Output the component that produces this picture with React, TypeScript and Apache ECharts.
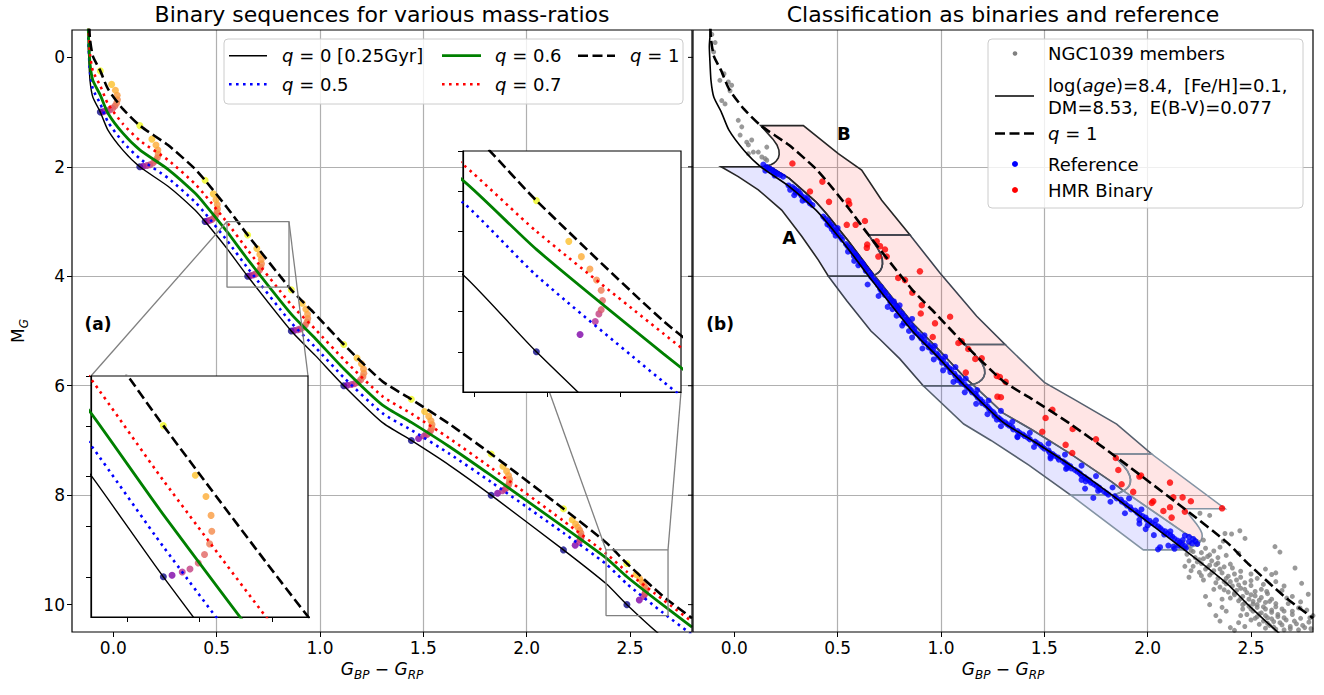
import React, { useEffect, useRef } from 'react';
import * as echarts from 'echarts';

const FONT = 'DejaVu Sans';

// ---------- sequences [G_BP - G_RP, M_G] ----------
const Q0_LINE = [[-0.112,-0.6],[-0.121,-0.2],[-0.119,0.0],[-0.113,0.42],[-0.099,0.73],[-0.063,1.0],[-0.026,1.33],[0.047,1.7],[0.128,2.0],[0.266,2.36],[0.395,2.79],[0.444,3.0],[0.551,3.5],[0.65,4.0],[0.861,5.0],[0.978,5.45],[1.115,6.0],[1.301,6.67],[1.442,7.0],[1.625,7.45],[1.828,8.0],[2.178,9.0],[2.385,9.62],[2.485,10.0],[2.66,10.6],[2.8,11.0]];
const Q05_LINE = [[-0.112,-0.75],[-0.121,-0.35],[-0.119,-0.15],[-0.113,0.27],[-0.099,0.58],[-0.063,0.85],[-0.026,1.18],[0.047,1.55],[0.128,1.85],[0.266,2.21],[0.395,2.64],[0.444,2.85],[0.551,3.35],[0.65,3.85],[0.861,4.85],[0.978,5.3],[1.115,5.85],[1.301,6.5],[1.442,6.81],[1.625,7.24],[1.828,7.76],[2.178,8.69],[2.385,9.26],[2.485,9.62],[2.66,10.15],[2.8,10.55]];
const Q06_LINE = [[-0.112,-0.91],[-0.121,-0.51],[-0.119,-0.31],[-0.113,0.11],[-0.099,0.42],[-0.063,0.69],[-0.026,1.02],[0.047,1.39],[0.128,1.69],[0.266,2.05],[0.395,2.48],[0.444,2.69],[0.551,3.19],[0.65,3.69],[0.861,4.69],[0.978,5.14],[1.115,5.69],[1.301,6.35],[1.442,6.67],[1.625,7.11],[1.828,7.64],[2.178,8.58],[2.385,9.15],[2.485,9.49],[2.66,10.01],[2.8,10.41]];
const Q07_LINE = [[-0.112,-1.08],[-0.121,-0.68],[-0.119,-0.48],[-0.113,-0.06],[-0.099,0.25],[-0.063,0.52],[-0.026,0.85],[0.047,1.22],[0.128,1.52],[0.266,1.88],[0.395,2.31],[0.444,2.52],[0.551,3.02],[0.65,3.52],[0.861,4.52],[0.978,4.97],[1.115,5.52],[1.301,6.19],[1.442,6.51],[1.625,6.96],[1.828,7.5],[2.178,8.47],[2.385,9.07],[2.485,9.4],[2.66,9.91],[2.8,10.31]];
const Q1_LINE = [[-0.112,-1.353],[-0.121,-0.953],[-0.119,-0.753],[-0.113,-0.333],[-0.099,-0.023],[-0.063,0.247],[-0.026,0.577],[0.047,0.947],[0.128,1.247],[0.266,1.607],[0.395,2.037],[0.444,2.247],[0.551,2.747],[0.65,3.247],[0.861,4.247],[0.978,4.697],[1.115,5.247],[1.301,5.917],[1.442,6.247],[1.625,6.697],[1.828,7.247],[2.178,8.247],[2.385,8.867],[2.485,9.247],[2.66,9.847],[2.8,10.247]];

// ---------- mass-ratio arcs (q = 0 ... 1) ----------
const ARC_BASE_X = [-0.063, 0.128, 0.444, 0.65, 0.861, 1.115, 1.442, 1.828, 2.178, 2.485];
const ARC_BASE_M = [1, 2, 3, 4, 5, 6, 7, 8, 9, 10];
const ARC_BULGE = [0.083, 0.089, 0.06, 0.067, 0.08, 0.097, 0.1, 0.089, 0.086, 0.091];
const ARC_KIND = ['b', 'b', 'b', 'b', 'b', 'b', 'm', 'm', 'f', 'f'];
const ARC_U_BRIGHT = [0, 0.18, 0.39, 0.55, 0.72, 0.85, 0.955, 1.0, 0.985, 0.88, 0.66, 0];
const ARC_DM_BRIGHT = [0, -0.008, -0.024, -0.039, -0.069, -0.111, -0.164, -0.227, -0.306, -0.4, -0.506, -0.753];
const ARC_U_MID = [0, 0.35, 0.62, 0.76, 0.86, 0.94, 0.99, 1.0, 0.95, 0.84, 0.64, 0];
const ARC_DM_MID = [0, -0.035, -0.08, -0.11, -0.14, -0.18, -0.23, -0.29, -0.36, -0.44, -0.53, -0.753];
const ARC_U_FAINT = [0, 0.66, 0.89, 0.945, 0.98, 1.0, 0.98, 0.91, 0.81, 0.68, 0.49, 0];
const ARC_DM_FAINT = [0, -0.086, -0.151, -0.189, -0.21, -0.255, -0.307, -0.358, -0.412, -0.474, -0.55, -0.753];
const ARC_COLORS = ['#0d0887', '#7e03a8', '#b12a90', '#c33d80', '#d8576b', '#e16462', '#ed7953', '#f48849', '#fa9b3e', '#fdab33', '#fdc02a', '#f0f921'];

// ---------- classification regions ----------
const A_LEFT = [[-0.064,2.0],[0.019,2.18],[0.116,2.42],[0.229,2.79],[0.326,3.27],[0.406,3.7],[0.455,4.0],[0.545,4.45],[0.661,5.0],[0.704,5.15],[0.801,5.51],[0.914,6.0],[1.11,6.7],[1.242,7.0],[1.425,7.45],[1.628,8.0],[1.979,9.0]];
const B_RIGHT = [[0.334,1.247],[0.503,1.76],[0.616,2.06],[0.713,2.61],[0.85,3.247],[0.995,3.94],[1.173,4.73],[1.31,5.247],[1.5,5.94],[1.64,6.24],[1.85,6.7],[2.019,7.247],[2.374,8.247]];
const BIN_ARCS = [1, 3, 5, 7, 8];
const BIN_STROKES = ['#262626', '#3d4350', '#56606e', '#8494a4'];

// ---------- NGC1039 stars ----------
const MEMBERS = [[-0.109,-0.42],[-0.093,-0.27],[-0.1,-0.1],[-0.05,0.3],[-0.07,0.42],[-0.029,0.45],[-0.013,0.51],[-0.021,0.61],[-0.061,0.79],[-0.045,0.85],[0.019,1.15],[0.036,1.27],[0.028,1.42],[0.06,1.55],[0.068,1.6],[0.084,1.51],[0.116,1.73],[0.092,1.73],[0.157,1.64],[0.133,1.82],[0.157,1.88],[0.068,1.76],[0.149,1.85],
[2.253,8.33],[2.3,8.37],[2.374,8.7],[2.406,8.71],[2.446,8.65],[2.366,8.84],[2.471,8.79],[2.616,8.94],[2.64,9.04],[2.713,9.33],[2.745,9.61],[2.777,9.81],[2.6,9.45],[2.576,9.76],[2.673,9.88],[2.737,10.06],[2.785,10.24],
[2.17,8.86],[2.2,8.92],[2.24,8.9],[2.28,8.97],[2.21,9.01],[2.26,9.05],[2.19,9.08],[2.32,9.02],[2.35,8.95],[2.23,9.14],[2.29,9.12],[2.25,9.18],[2.38,9.1],[2.2,9.2],[2.31,9.2],[2.44,9.06],[2.16,8.95],[2.27,8.82],
[2.26,9.25],[2.3,9.28],[2.34,9.24],[2.22,9.3],[2.37,9.31],[2.28,9.35],[2.41,9.33],[2.32,9.38],[2.25,9.41],[2.36,9.42],[2.45,9.39],[2.3,9.46],[2.39,9.48],[2.5,9.44],[2.34,9.52],[2.27,9.55],[2.43,9.55],[2.37,9.58],[2.53,9.52],[2.47,9.6],[2.2,9.5],[2.57,9.35],[2.62,9.42],
[2.38,9.62],[2.41,9.66],[2.35,9.68],[2.45,9.7],[2.5,9.65],[2.43,9.74],[2.39,9.77],[2.48,9.78],[2.55,9.72],[2.42,9.82],[2.46,9.85],[2.52,9.84],[2.58,9.8],[2.4,9.88],[2.49,9.9],[2.44,9.93],[2.54,9.92],[2.6,9.9],[2.47,9.97],[2.51,9.99],[2.36,9.9],[2.65,9.74],[2.32,9.72],[2.57,9.96],
[2.49,10.03],[2.53,10.05],[2.46,10.08],[2.57,10.08],[2.62,10.04],[2.51,10.12],[2.55,10.15],[2.6,10.14],[2.48,10.18],[2.66,10.12],[2.53,10.22],[2.58,10.24],[2.63,10.22],[2.7,10.18],[2.5,10.28],[2.56,10.3],[2.61,10.31],[2.67,10.28],[2.74,10.25],[2.54,10.36],[2.59,10.38],[2.65,10.37],[2.72,10.35],[2.78,10.32],[2.57,10.43],[2.62,10.45],[2.69,10.44],[2.76,10.42],[2.45,10.2],[2.44,10.33],[2.8,10.2],[2.73,10.06],[2.68,9.98],
[2.14,8.9],[2.18,8.98],[2.22,9.03],[2.3,9.09],[2.27,9.16],[2.34,9.14],[2.24,9.22],[2.33,9.27],[2.29,9.32],[2.4,9.26],[2.35,9.35],[2.31,9.42],[2.42,9.44],[2.38,9.52],[2.45,9.5],[2.33,9.6],[2.4,9.58],[2.5,9.56],[2.44,9.64],[2.37,9.73],[2.47,9.72],[2.52,9.76],[2.42,9.79],[2.5,9.82],[2.45,9.89],[2.55,9.87],[2.51,9.94],[2.59,9.94],[2.46,10.0],[2.53,10.0],[2.62,9.98],[2.56,10.04],[2.5,10.08],[2.6,10.1],[2.65,10.08],[2.54,10.17],[2.63,10.18],[2.57,10.2],[2.7,10.12],[2.6,10.26],[2.66,10.24],[2.52,10.25],[2.71,10.3],[2.64,10.33],[2.58,10.34],[2.69,10.4],[2.75,10.38],[2.61,10.41],[2.66,10.46],[2.73,10.46],[2.79,10.44],[2.77,10.1],[2.74,9.95],[2.7,9.85],[2.66,9.66],[2.62,9.58],[2.56,9.63],[2.21,9.38],[2.26,9.47],[2.18,9.3],
[2.35,10.3],[2.4,10.42],[2.38,10.12],[2.42,10.47],[2.3,10.0],[2.33,10.2],[2.28,9.85],[2.36,10.05],[2.47,10.4]];

const REFERENCE = [[0.14,1.96],[0.155,2.0],[0.17,2.03],[0.185,2.06],[0.178,2.08],[0.2,2.1],[0.21,2.13],[0.222,2.15],[0.236,2.18],[0.19,2.11],[0.16,2.04],[0.15,2.07],[0.195,2.16],
[0.262,2.34],[0.28,2.37],[0.29,2.4],[0.3,2.43],[0.296,2.47],[0.318,2.49],[0.325,2.53],[0.34,2.56],[0.345,2.6],[0.36,2.63],[0.366,2.67],[0.378,2.7],[0.31,2.45],[0.352,2.58],[0.27,2.42],[0.33,2.62],[0.29,2.52],
[0.43,2.91],[0.44,2.95],[0.452,2.98],[0.458,3.02],[0.468,3.06],[0.476,3.1],[0.472,3.14],[0.49,3.17],[0.496,3.21],[0.505,3.25],[0.515,3.29],[0.522,3.33],[0.482,3.19],[0.462,3.08],[0.45,3.05],[0.49,3.26],[0.5,3.12],
[0.54,3.41],[0.548,3.45],[0.56,3.48],[0.566,3.52],[0.572,3.56],[0.584,3.59],[0.578,3.63],[0.598,3.66],[0.6,3.7],[0.612,3.73],[0.61,3.77],[0.625,3.8],[0.63,3.84],[0.64,3.87],[0.636,3.9],[0.652,3.93],[0.66,3.97],[0.59,3.62],[0.62,3.76],[0.55,3.55],[0.6,3.8],[0.58,3.72],
[0.662,4.01],[0.672,4.05],[0.68,4.08],[0.69,4.12],[0.695,4.16],[0.708,4.19],[0.705,4.23],[0.72,4.26],[0.73,4.3],[0.728,4.34],[0.745,4.37],[0.75,4.41],[0.758,4.44],[0.755,4.48],[0.772,4.51],[0.78,4.55],[0.788,4.58],[0.79,4.62],[0.8,4.65],[0.812,4.68],[0.81,4.72],[0.825,4.75],[0.832,4.79],[0.84,4.82],[0.838,4.86],[0.855,4.89],[0.86,4.93],[0.87,4.96],[0.712,4.28],[0.765,4.6],[0.82,4.85],
[0.645,4.15],[0.698,4.36],[0.772,4.46],[0.742,4.56],[0.8,4.53],[0.785,4.72],[0.86,4.78],[0.812,4.9],[0.845,5.0],
[0.872,5.01],[0.88,5.04],[0.893,5.07],[0.9,5.11],[0.905,5.14],[0.92,5.17],[0.918,5.21],[0.935,5.24],[0.945,5.27],[0.95,5.31],[0.962,5.34],[0.958,5.38],[0.978,5.41],[0.985,5.44],[0.99,5.48],[1.0,5.51],[1.01,5.54],[1.005,5.58],[1.025,5.61],[1.03,5.65],[1.04,5.68],[1.05,5.71],[1.045,5.75],[1.065,5.78],[1.07,5.82],[1.085,5.85],[1.09,5.88],[1.1,5.92],[1.098,5.95],[1.115,5.98],[0.94,5.3],[1.08,5.9],
[0.86,5.12],[0.92,5.08],[0.91,5.32],[0.97,5.27],[0.965,5.52],[1.02,5.47],[1.01,5.72],[1.07,5.66],[1.06,5.93],[1.12,5.87],
[1.125,6.02],[1.135,6.05],[1.145,6.08],[1.15,6.12],[1.165,6.15],[1.172,6.18],[1.178,6.22],[1.19,6.25],[1.2,6.29],[1.198,6.32],[1.215,6.35],[1.225,6.38],[1.232,6.42],[1.24,6.45],[1.252,6.48],[1.26,6.52],[1.258,6.55],[1.275,6.58],[1.285,6.61],[1.295,6.64],[1.31,6.67],[1.32,6.7],[1.33,6.73],[1.345,6.76],[1.35,6.8],[1.37,6.83],[1.38,6.86],[1.395,6.89],[1.405,6.92],[1.42,6.95],[1.43,6.98],[1.27,6.62],[1.37,6.94],
[1.115,6.12],[1.175,6.08],[1.17,6.33],[1.23,6.27],[1.225,6.52],[1.29,6.46],[1.29,6.74],[1.345,6.66],[1.37,6.93],[1.43,6.86],
[1.455,7.02],[1.465,7.05],[1.48,7.08],[1.49,7.12],[1.5,7.15],[1.52,7.18],[1.525,7.22],[1.54,7.25],[1.55,7.28],[1.565,7.31],[1.57,7.35],[1.59,7.38],[1.6,7.41],[1.612,7.44],[1.625,7.47],[1.63,7.51],[1.648,7.54],[1.66,7.57],[1.672,7.6],[1.68,7.64],[1.695,7.67],[1.705,7.7],[1.718,7.73],[1.725,7.77],[1.74,7.8],[1.752,7.83],[1.765,7.86],[1.77,7.9],[1.788,7.93],[1.8,7.96],[1.81,7.99],[1.53,7.3],[1.61,7.5],[1.7,7.75],[1.697,7.88],
[1.45,7.12],[1.52,7.06],[1.53,7.33],[1.6,7.26],[1.605,7.52],[1.68,7.46],[1.68,7.72],[1.75,7.65],[1.76,7.92],[1.83,7.86],
[1.84,8.02],[1.85,8.06],[1.87,8.08],[1.875,8.12],[1.89,8.15],[1.9,8.19],[1.915,8.22],[1.92,8.26],[1.94,8.28],[1.95,8.32],[1.96,8.35],[1.975,8.38],[1.99,8.41],[1.995,8.45],[2.01,8.47],[2.02,8.51],[2.035,8.54],[2.05,8.57],[2.06,8.6],[2.07,8.64],[2.085,8.66],[2.095,8.7],[2.11,8.73],[2.12,8.76],[2.13,8.8],[2.145,8.83],[2.155,8.86],[2.165,8.9],[2.18,8.93],[2.185,8.97],[1.96,8.45],[2.0,8.55],[2.08,8.72],[2.15,8.92],[2.2,8.85],[2.215,8.88],[2.23,8.84],[2.24,8.89],[2.22,8.8],[2.2,8.76],[2.18,8.74],[1.737,8.05],[2.05,8.99],[2.124,8.94],
[1.82,8.12],[1.91,8.06],[1.89,8.33],[1.97,8.26],[1.96,8.52],[2.04,8.46],[2.03,8.73],[2.11,8.66],[2.1,8.92],[2.17,8.82],[2.06,8.95],[1.99,8.62],[2.13,8.98]];

const HMR = [[0.281,1.94],[0.426,2.27],[0.366,2.45],[0.458,2.64],[0.552,2.62],[0.556,2.68],[0.544,3.06],[0.587,3.06],[0.632,2.99],[0.641,3.48],[0.643,3.42],[0.689,3.36],[0.729,3.51],[0.737,3.64],[0.697,3.64],[0.705,3.45],[0.793,4.03],[0.826,4.07],[0.861,4.3],[0.898,3.91],[0.907,4.53],[0.902,4.68],[0.971,4.86],[1.044,4.74],[0.96,5.11],[1.084,5.22],[1.1,5.19],[1.132,5.33],[1.197,5.5],[1.166,5.51],[1.12,5.76],[1.27,5.82],[1.285,5.84],[1.313,5.93],[1.273,6.2],[1.29,6.21],[1.539,6.44],[1.506,6.59],[1.637,6.79],[1.75,6.98],[1.603,7.08],[1.49,6.84],[1.635,7.23],[1.846,7.32],[1.858,7.54],[1.968,7.64],[1.96,7.66],[1.874,7.8],[1.93,7.94],[2.108,7.77],[2.027,8.11],[2.02,8.14],[2.124,8.04],[2.169,8.04],[2.209,8.11],[2.108,8.22],[2.076,8.29],[2.116,8.41],[2.18,8.3],[2.36,8.24]];

// ---------- axes ----------
const X_TICKS = [0, 0.5, 1, 1.5, 2, 2.5];
const Y_TICKS = [0, 2, 4, 6, 8, 10];
const INSET1_X = [0.55, 0.85];
const INSET1_Y = [3.0, 4.2];
const INSET1_X_TICKS = [0.6, 0.7, 0.8];
const INSET1_Y_TICKS = [3.0, 3.25, 3.5, 3.75, 4.0];
const INSET2_X = [2.384, 2.684];
const INSET2_Y = [9.0, 10.2];
const INSET2_X_TICKS = [2.4, 2.5, 2.6];
const INSET2_Y_TICKS = [9.0, 9.2, 9.4, 9.6, 9.8, 10.0];

// ---------- derived tables ----------
function arcPoints(i: number) {
  const k = ARC_KIND[i];
  const U = k === 'b' ? ARC_U_BRIGHT : k === 'm' ? ARC_U_MID : ARC_U_FAINT;
  const DM = k === 'b' ? ARC_DM_BRIGHT : k === 'm' ? ARC_DM_MID : ARC_DM_FAINT;
  return U.map((u, j) => [ARC_BASE_X[i] + u * ARC_BULGE[i], ARC_BASE_M[i] + DM[j]]);
}
const ARCS = ARC_BASE_X.map((_, i) => arcPoints(i));
const ARC_DOTS: any[] = [];
ARCS.forEach((arc) => arc.forEach((p, j) => ARC_DOTS.push({ value: p, itemStyle: { color: ARC_COLORS[j] } })));

function q05Between(mA: number, mB: number) {
  return Q05_LINE.filter((p) => p[1] > mA + 1e-6 && p[1] < mB - 1e-6);
}
const POLYS: any[] = [];
for (let b = 0; b < BIN_ARCS.length - 1; b++) {
  const a1 = ARCS[BIN_ARCS[b]];
  const a2 = ARCS[BIN_ARCS[b + 1]];
  const m1 = ARC_BASE_M[BIN_ARCS[b]];
  const m2 = ARC_BASE_M[BIN_ARCS[b + 1]];
  const mid = q05Between(a1[2][1], a2[2][1]).slice().reverse();
  const left = A_LEFT.filter((p) => p[1] >= m1 - 1e-6 && p[1] <= m2 + 1e-6);
  POLYS.push({
    pts: [...left, a2[0], a2[1], a2[2], ...mid, a1[2], a1[1], a1[0]],
    fill: 'rgba(0,0,255,0.1)', stroke: BIN_STROKES[b],
  });
  const right = B_RIGHT.filter((p) => p[1] >= m1 - 0.754 && p[1] <= m2 - 0.752);
  POLYS.push({
    pts: [...a1.slice(2), ...right, ...a2.slice(2).reverse(), ...mid],
    fill: 'rgba(255,0,0,0.1)', stroke: BIN_STROKES[b],
  });
}

const lineS = (data: number[][], gi: number, color: string, width: number, type: any, z: number) => ({
  type: 'line', xAxisIndex: gi, yAxisIndex: gi, data, symbol: 'none', showSymbol: false, smooth: 0.2,
  lineStyle: { color, width, type }, z, silent: true, clip: true,
});
const DOT = [2.6, 4.4];
const DASH = [10, 4.5];

function sequences(gi: number, z: number) {
  return [
    { type: 'scatter', xAxisIndex: gi, yAxisIndex: gi, data: ARC_DOTS, symbolSize: 7, z, silent: true, clip: true },
    lineS(Q0_LINE, gi, '#000', 1.4, 'solid', z + 1),
    lineS(Q05_LINE, gi, '#0000ff', 2.6, DOT, z + 1),
    lineS(Q06_LINE, gi, '#008000', 2.8, 'solid', z + 1),
    lineS(Q07_LINE, gi, '#ff0000', 2.6, DOT, z + 1),
    lineS(Q1_LINE, gi, '#000', 2.6, DASH, z + 1),
  ];
}

const mainX = (gi: number) => ({
  gridIndex: gi, type: 'value', min: -0.2, max: 2.8, splitNumber: 6, position: 'bottom',
  axisLine: { show: false, onZero: false },
  axisTick: { show: true, length: 5, customValues: X_TICKS, lineStyle: { color: '#000', width: 1 } },
  axisLabel: { customValues: X_TICKS, fontSize: 17, fontFamily: FONT, color: '#000', margin: 7, formatter: (v: number) => v.toFixed(1) },
  splitLine: { show: true, showMinLine: false, showMaxLine: false, lineStyle: { color: '#b0b0b0', width: 1.2 } },
});
const mainY = (gi: number, labels: boolean) => ({
  gridIndex: gi, type: 'value', inverse: true, min: -0.5, max: 10.5, splitNumber: 5, position: 'left',
  axisLine: { show: false, onZero: false },
  axisTick: { show: labels, inside: false, length: 5, customValues: Y_TICKS, lineStyle: { color: '#000', width: 1 } },
  axisLabel: { show: labels, customValues: Y_TICKS, fontSize: 17, fontFamily: FONT, color: '#000', margin: 7 },
  splitLine: { show: true, showMinLine: false, showMaxLine: false, lineStyle: { color: '#b0b0b0', width: 1.2 } },
});
const insetAxis = (gi: number, range: number[], ticks: number[], inverse: boolean) => ({
  gridIndex: gi, type: 'value', min: range[0], max: range[1], inverse, z: 7,
  axisLine: { show: true, onZero: false, lineStyle: { color: '#000', width: 1.2 } },
  axisTick: { show: true, length: 5, customValues: ticks, lineStyle: { color: '#000', width: 1 } },
  axisLabel: { show: false },
  splitLine: { show: false },
});

function buildOption() {
  const rectLine = (xr: number[], yr: number[]) => lineS(
    [[xr[0], yr[0]], [xr[1], yr[0]], [xr[1], yr[1]], [xr[0], yr[1]], [xr[0], yr[0]]], 0, '#808080', 1.3, 'solid', 4);
  const rl1: any = rectLine(INSET1_X, INSET1_Y); rl1.smooth = false;
  const rl2: any = rectLine(INSET2_X, INSET2_Y); rl2.smooth = false;
  return {
    animation: false,
    backgroundColor: '#fff',
    grid: [
      { left: 72, top: 30, width: 620, height: 602, show: true, backgroundColor: 'rgba(0,0,0,0)', borderColor: '#000', borderWidth: 1.2, z: 9 },
      { left: 91, top: 376, width: 217, height: 241, show: true, backgroundColor: '#fff', borderColor: '#000', borderWidth: 1.2, z: 5 },
      { left: 463, top: 151, width: 218, height: 241, show: true, backgroundColor: '#fff', borderColor: '#000', borderWidth: 1.2, z: 5 },
      { left: 693, top: 30, width: 620, height: 602, show: true, backgroundColor: 'rgba(0,0,0,0)', borderColor: '#000', borderWidth: 1.2, z: 9 },
    ],
    xAxis: [mainX(0), insetAxis(1, INSET1_X, INSET1_X_TICKS, false), insetAxis(2, INSET2_X, INSET2_X_TICKS, false), mainX(3)],
    yAxis: [mainY(0, true), insetAxis(1, INSET1_Y, INSET1_Y_TICKS, true), insetAxis(2, INSET2_Y, INSET2_Y_TICKS, true), mainY(3, false)],
    series: [
      ...sequences(0, 2),
      rl1, rl2,
      ...sequences(1, 6),
      ...sequences(2, 6),
      {
        type: 'custom', xAxisIndex: 3, yAxisIndex: 3, z: 1, silent: true,
        data: POLYS.map((p) => p.pts[0]),
        renderItem: (params: any, api: any) => {
          const poly = POLYS[params.dataIndex];
          return {
            type: 'polygon',
            shape: { points: poly.pts.map((p: number[]) => api.coord(p)) },
            style: { fill: poly.fill, stroke: poly.stroke, lineWidth: 1.6 },
          };
        },
      },
      { type: 'scatter', xAxisIndex: 3, yAxisIndex: 3, data: MEMBERS, symbolSize: 5, itemStyle: { color: '#808080' }, z: 2, silent: true },
      { type: 'scatter', xAxisIndex: 3, yAxisIndex: 3, data: REFERENCE, symbolSize: 6, itemStyle: { color: '#0000ff' }, z: 3, silent: true },
      { type: 'scatter', xAxisIndex: 3, yAxisIndex: 3, data: HMR, symbolSize: 6.5, itemStyle: { color: '#ff0000' }, z: 3, silent: true },
      lineS(Q0_LINE, 3, '#000', 1.6, 'solid', 4),
      lineS(Q1_LINE, 3, '#000', 2.6, DASH, 4),
    ],
  };
}

const txt = (x: number, y: number, text: string, extra: any = {}, z = 20) => ({
  type: 'text', x, y, z, silent: true,
  style: {
    text, fontSize: 18, fontFamily: FONT, fill: '#000',
    textAlign: 'left', align: 'left', textVerticalAlign: 'middle', verticalAlign: 'middle',
    ...extra,
  },
});
const seg = (x1: number, y1: number, x2: number, y2: number, stroke: string, lineWidth: number, lineDash?: number[], z = 20) => ({
  type: 'line', z, silent: true, shape: { x1, y1, x2, y2 }, style: { stroke, lineWidth, lineDash },
});
const ITALIC = { i: { fontStyle: 'italic', fontSize: 18, fontFamily: FONT } };
const SUBRICH = {
  g: { fontStyle: 'italic', fontSize: 17, fontFamily: FONT, lineHeight: 24 },
  u: { fontSize: 17, fontFamily: FONT, lineHeight: 24 },
  m: { fontSize: 17, fontFamily: FONT, lineHeight: 24 },
  s: { fontStyle: 'italic', fontSize: 12, fontFamily: FONT, lineHeight: 14, verticalAlign: 'bottom' },
};

function buildGraphic(chart: any) {
  const px = (gi: number, p: number[]) => chart.convertToPixel({ gridIndex: gi }, p);
  const els: any[] = [];
  // titles
  els.push(txt(382, 14, 'Binary sequences for various mass-ratios', { fontSize: 22, textAlign: 'center', align: 'center' }));
  els.push(txt(1003, 14, 'Classification as binaries and reference', { fontSize: 22, textAlign: 'center', align: 'center' }));
  // axis names
  const xl = '{g|G}{s|BP}{m| − }{g|G}{s|RP}';
  els.push(txt(382, 669, xl, { fontSize: 17, textAlign: 'center', align: 'center', rich: SUBRICH }));
  els.push(txt(1003, 669, xl, { fontSize: 17, textAlign: 'center', align: 'center', rich: SUBRICH }));
  els.push({ ...txt(18, 331, '{u|M}{s|G}', { fontSize: 17, textAlign: 'center', align: 'center', rich: SUBRICH }), rotation: Math.PI / 2 });

  // right panel y ticks (outward, into the left panel)
  Y_TICKS.forEach((v) => {
    const p = px(3, [-0.2, v]);
    els.push(seg(p[0] - 5, p[1], p[0], p[1], '#000', 1, undefined, 10));
  });

  // inset connectors
  const c = [
    [px(0, [INSET1_X[0], INSET1_Y[0]]), px(1, [INSET1_X[0], INSET1_Y[0]])],
    [px(0, [INSET1_X[1], INSET1_Y[0]]), px(1, [INSET1_X[1], INSET1_Y[0]])],
    [px(0, [INSET2_X[0], INSET2_Y[0]]), px(2, [INSET2_X[0], INSET2_Y[0]])],
    [px(0, [INSET2_X[1], INSET2_Y[0]]), px(2, [INSET2_X[1], INSET2_Y[1]])],
  ];
  c.forEach(([a, b]) => els.push(seg(a[0], a[1], b[0], b[1], '#808080', 1.3, undefined, 4)));

  // panel labels
  const la = px(0, [-0.074, 4.88]);
  els.push(txt(la[0], la[1], '(a)', { fontSize: 17, fontWeight: 'bold', textAlign: 'center', align: 'center' }, 12));
  const lb = px(3, [-0.069, 4.88]);
  els.push(txt(lb[0], lb[1], '(b)', { fontSize: 17, fontWeight: 'bold', textAlign: 'center', align: 'center' }, 12));
  const lA = px(3, [0.265, 3.3]);
  els.push(txt(lA[0], lA[1], 'A', { fontWeight: 'bold', textAlign: 'center', align: 'center' }, 12));
  const lB = px(3, [0.53, 1.39]);
  els.push(txt(lB[0], lB[1], 'B', { fontWeight: 'bold', textAlign: 'center', align: 'center' }, 12));

  // left legend
  els.push({ type: 'rect', z: 19, silent: true, shape: { x: 224, y: 39, width: 459, height: 65, r: 4 }, style: { fill: 'rgba(255,255,255,0.8)', stroke: '#cccccc', lineWidth: 1 } });
  const r1 = 55.7, r2 = 84.3;
  els.push(seg(229, r1, 267, r1, '#000', 1.4));
  els.push(txt(282, r1, '{i|q} = 0 [0.25Gyr]', { rich: ITALIC }));
  els.push(seg(229, r2, 267, r2, '#0000ff', 2.6, DOT));
  els.push(txt(282, r2, '{i|q} = 0.5', { rich: ITALIC }));
  els.push(seg(442, r1, 481, r1, '#008000', 2.8));
  els.push(txt(495, r1, '{i|q} = 0.6', { rich: ITALIC }));
  els.push(seg(442, r2, 481, r2, '#ff0000', 2.6, DOT));
  els.push(txt(495, r2, '{i|q} = 0.7', { rich: ITALIC }));
  els.push(seg(578, r1, 615, r1, '#000', 2.6, DASH));
  els.push(txt(630, r1, '{i|q} = 1', { rich: ITALIC }));

  // right legend
  els.push({ type: 'rect', z: 19, silent: true, shape: { x: 988, y: 39, width: 315, height: 169, r: 4 }, style: { fill: 'rgba(255,255,255,0.8)', stroke: '#cccccc', lineWidth: 1 } });
  els.push({ type: 'circle', z: 20, silent: true, shape: { cx: 1015, cy: 53.5, r: 2.3 }, style: { fill: '#808080' } });
  els.push(txt(1048, 53.5, 'NGC1039 members'));
  els.push(seg(995, 96, 1034, 96, '#000', 1.6));
  els.push(txt(1048, 85, 'log({i|age})=8.4,  [Fe/H]=0.1,', { rich: ITALIC }));
  els.push(txt(1048, 107, 'DM=8.53,  E(B-V)=0.077'));
  els.push(seg(995, 133.5, 1034, 133.5, '#000', 2.6, DASH));
  els.push(txt(1048, 133.5, '{i|q} = 1', { rich: ITALIC }));
  els.push({ type: 'circle', z: 20, silent: true, shape: { cx: 1015, cy: 164, r: 3 }, style: { fill: '#0000ff' } });
  els.push(txt(1048, 164, 'Reference'));
  els.push({ type: 'circle', z: 20, silent: true, shape: { cx: 1015, cy: 190, r: 3 }, style: { fill: '#ff0000' } });
  els.push(txt(1048, 190, 'HMR Binary'));
  return els;
}

export default function App() {
  const ref = useRef<HTMLDivElement>(null);
  useEffect(() => {
    const chart = echarts.init(ref.current as HTMLDivElement, null, { renderer: 'svg' });
    chart.setOption(buildOption() as any);
    chart.setOption({ graphic: { elements: buildGraphic(chart) } } as any);
    return () => chart.dispose();
  }, []);
  return <div ref={ref} style={{ position: 'fixed', left: 0, top: 0, width: 1324, height: 695, background: '#fff' }} />;
}
